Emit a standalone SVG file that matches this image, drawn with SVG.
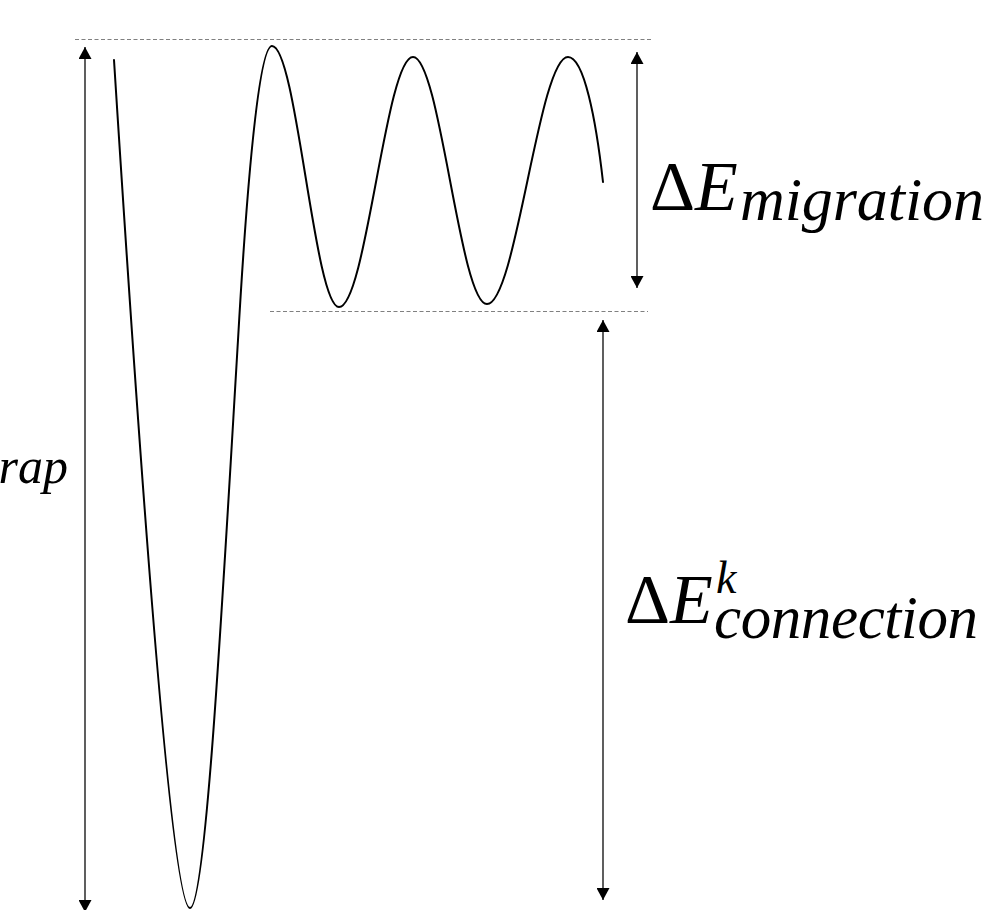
<svg xmlns="http://www.w3.org/2000/svg" width="994" height="910" viewBox="0 0 994 910">
<style>
.dash{stroke:#808080;stroke-width:1.2;stroke-dasharray:4 2.5;fill:none}
.arr{stroke:#1a1a1a;stroke-width:1.4;fill:none;marker-start:url(#ah);marker-end:url(#ah)}
.curve{stroke:#000;stroke-width:2;fill:none;stroke-linejoin:round;stroke-linecap:round}
.lbl{font-family:"Liberation Serif","Times New Roman",serif;fill:#000}
.it{font-style:italic}
</style>
<defs>
<marker id="ah" markerUnits="userSpaceOnUse" markerWidth="13" markerHeight="13" refX="12" refY="6.5" orient="auto-start-reverse" viewBox="0 0 13 13">
<path d="M0,0 L12,6.5 L0,13 z" fill="#000"/>
</marker>
</defs>
<rect width="994" height="910" fill="#fff"/>
<g id="levels">
<line class="dash" x1="75" y1="39.5" x2="652" y2="39.5"/>
<line class="dash" x1="270" y1="311.5" x2="648" y2="311.5"/>
</g>
<g id="energy-curve">
<path class="curve" d="M114,60 C135,390 170,908 190,908 C206,908 223,590 238,340 C246,200 258,46 272,46 C296.4,46 314.6,307 339,307 C366,307 386,57 413,57 C440,57 460,304 487,304 C516,304 539,57 568,57 C584,57 596,120 603,182"/>
</g>
<g id="connectors">
<line class="arr" x1="85" y1="47" x2="85" y2="912"/>
<line class="arr" x1="637" y1="52" x2="637" y2="288"/>
<line class="arr" x1="603" y1="320" x2="603" y2="900"/>
</g>
<g id="label-trap">
<text class="lbl it" x="68" y="483" font-size="50" text-anchor="end">rap</text>
</g>
<g id="label-migration">
<text class="lbl" y="210"><tspan x="650" font-size="70">Δ</tspan><tspan class="it" x="695" font-size="70">E</tspan><tspan class="it" x="740" y="220" font-size="62" textLength="244">migration</tspan></text>
</g>
<g id="label-connection">
<text class="lbl" y="623"><tspan x="625" font-size="70">Δ</tspan><tspan class="it" x="670" font-size="70">E</tspan><tspan class="it" x="716" y="593" font-size="46">k</tspan><tspan class="it" x="714" y="638" font-size="61" textLength="264">connection</tspan></text>
</g>
</svg>
